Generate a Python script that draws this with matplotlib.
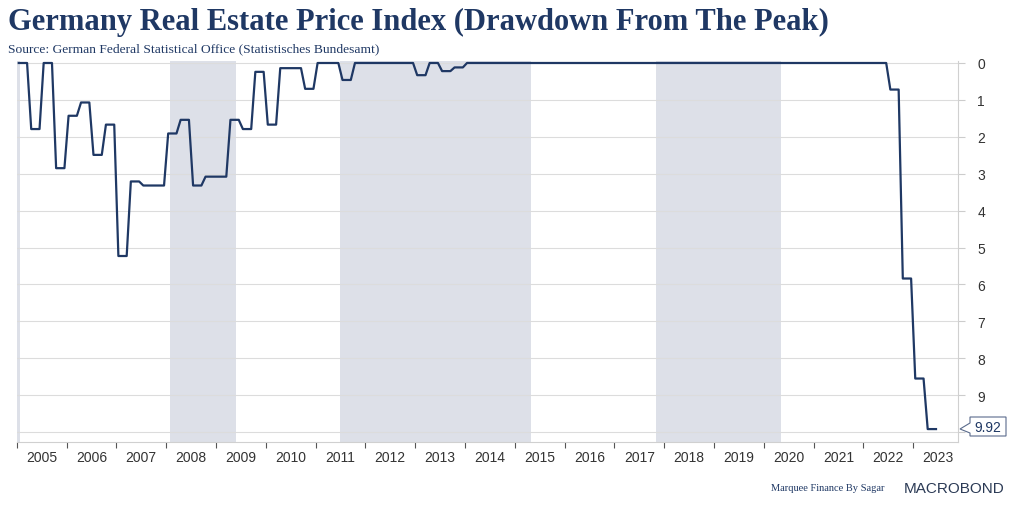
import numpy as np
import matplotlib.pyplot as plt
from matplotlib.patches import Polygon

# quarterly drawdown from peak (%), 2005Q1 .. 2023Q2
drawdown_q = [
    0.00, 1.79, 0.00, 2.85,   # 2005
    1.43, 1.07, 2.49, 1.67,   # 2006
    5.23, 3.21, 3.32, 3.32,   # 2007
    1.91, 1.54, 3.32, 3.08,   # 2008
    3.08, 1.54, 1.79, 0.24,   # 2009
    1.67, 0.14, 0.14, 0.70,   # 2010
    0.00, 0.00, 0.46, 0.00,   # 2011
    0.00, 0.00, 0.00, 0.00,   # 2012
    0.33, 0.00, 0.22, 0.12,   # 2013
] + [0.00] * 32 + [           # 2014 - 2021
    0.00, 0.00, 0.72, 5.84,   # 2022
    8.55, 9.92,               # 2023
]
start_year = 2005
last_value = 9.92

# shaded periods (decimal years)
shade_start = [2004.9, 2008.08, 2011.50, 2017.83]
shade_end = [2005.07, 2009.40, 2015.32, 2020.35]

years = list(range(2005, 2024))

plt.rcParams['font.family'] = ['Liberation Sans', 'DejaVu Sans']

# quarterly figures shown on a monthly axis (each value held for 3 months)
monthly = np.repeat(drawdown_q, 3)
x = start_year + (np.arange(len(monthly)) + 0.5) / 12

navy = '#1f3864'
grid_c = '#dcdcdc'

fig = plt.figure(figsize=(10.12, 5.06), dpi=100)
ax = fig.add_axes([16.7 / 1012, 1 - 443 / 506, (958 - 16.7) / 1012, (443 - 62) / 506])

for s, e in zip(shade_start, shade_end):
    ax.axvspan(s, e, color='#dde0e8', lw=0, zorder=0)

ax.plot(x, monthly, color=navy, lw=1.6, zorder=3)

ax.set_xlim(2005.0, 2023.9)
ax.set_ylim(10.27, -0.054)

ax.set_yticks(range(0, 11))
ax.set_yticklabels([str(i) for i in range(0, 10)] + [''])
ax.yaxis.tick_right()
ax.grid(axis='y', color=grid_c, lw=0.8)
ax.tick_params(axis='y', length=5, color='#cccccc', labelsize=10, labelcolor='#333333', pad=9)

ax.set_xticks(years)
ax.set_xticklabels([])
ax.set_xticks([y + 0.5 for y in years], minor=True)
ax.set_xticklabels([str(y) for y in years], minor=True)
ax.tick_params(axis='x', which='major', length=4, color='#555555')
ax.tick_params(axis='x', which='minor', length=0, labelsize=10, labelcolor='#333333', pad=6)

for side in ['top', 'left']:
    ax.spines[side].set_visible(False)
ax.spines['right'].set_color('#d0d0d0')
ax.spines['bottom'].set_color('#d0d0d0')

serif = ['Liberation Serif', 'DejaVu Serif']

fig.text(8 / 1012, 1 - 22 / 506, 'Germany Real Estate Price Index (Drawdown From The Peak)',
         family=serif, weight='bold', size=22, color=navy, va='center')
fig.text(8 / 1012, 1 - 49 / 506, 'Source: German Federal Statistical Office (Statistisches Bundesamt)',
         family=serif, size=9.7, color=navy, va='center')
fig.text(885 / 1012, 1 - 489 / 506, 'Marquee Finance By Sagar',
         family=serif, size=7.5, color=navy, va='center', ha='right')
fig.text(1005 / 1012, 1 - 489 / 506, 'MACROBOND',
         size=11, color='#2b3a55', va='center', ha='right')

# last value label
pts = [(960, 430), (970, 424), (970, 418), (1006, 418), (1006, 437),
       (970, 437), (970, 434)]
box = Polygon([(px / 100, (506 - py) / 100) for px, py in pts], closed=True,
              transform=fig.dpi_scale_trans, facecolor='white',
              edgecolor='#5a6b8c', lw=0.8)
fig.patches.append(box)
fig.text(988 / 1012, 1 - 428 / 506, f'{last_value:.2f}', size=10,
         color=navy, ha='center', va='center')

fig.savefig('out.png', dpi=100)
